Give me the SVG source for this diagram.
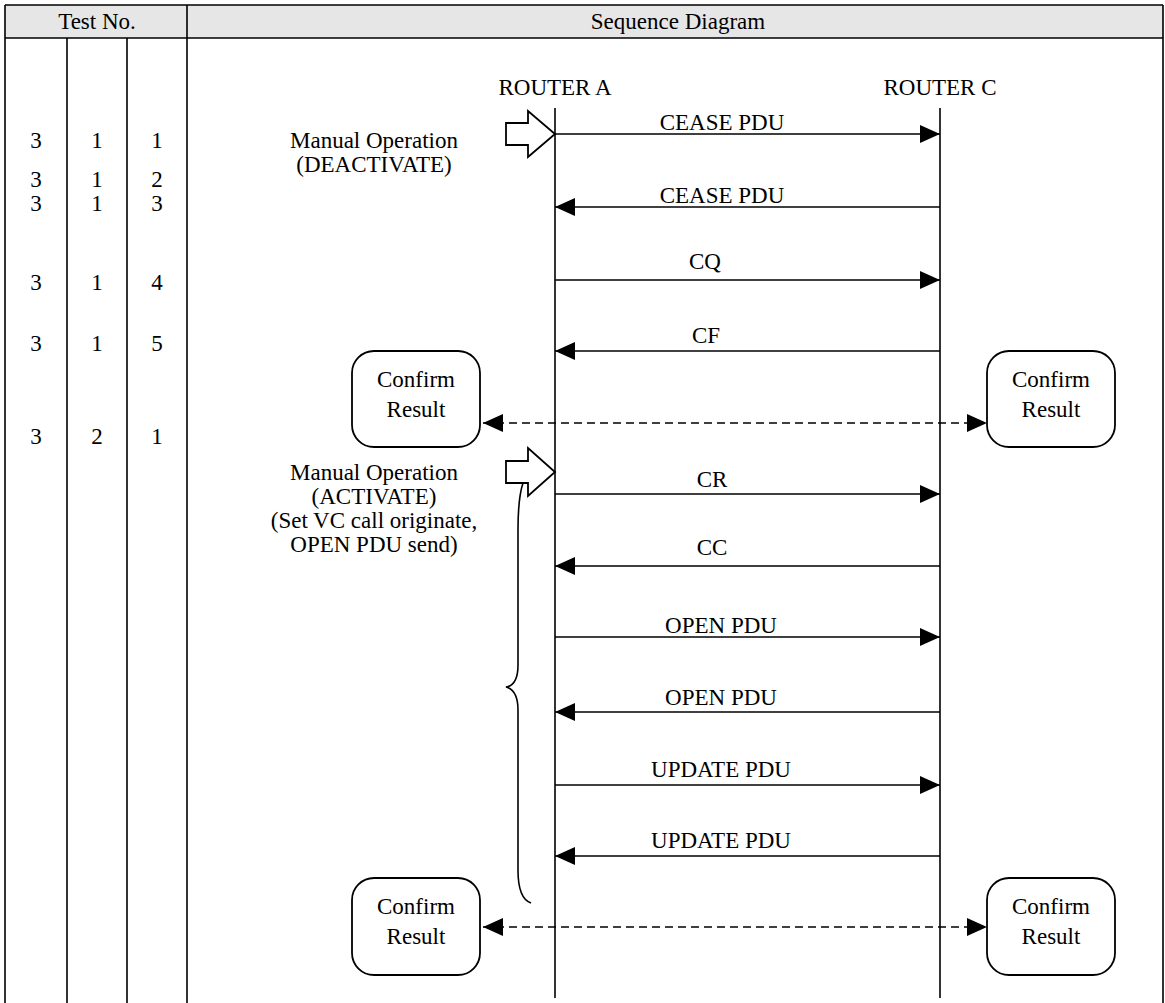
<svg xmlns="http://www.w3.org/2000/svg" width="1165" height="1003" viewBox="0 0 1165 1003">
<defs>
<style>
.t{font-family:"Liberation Serif","Times New Roman",serif;fill:#000}
.m{font-size:23px}
.s{font-size:23px}
.ln{stroke:#000;stroke-width:1.6;fill:none}
.msg{stroke:#000;stroke-width:1.6;fill:none}
.dash{stroke:#000;stroke-width:1.6;fill:none;stroke-dasharray:8 5}
.box{fill:#fff;stroke:#000;stroke-width:1.8}
.blk{fill:#fff;stroke:#000;stroke-width:1.8;stroke-linejoin:miter}
</style>
<marker id="ah" viewBox="0 0 20 18" refX="20" refY="9" markerWidth="20" markerHeight="18" markerUnits="userSpaceOnUse" orient="auto-start-reverse">
<path d="M0,0 L20,9 L0,18 Z" fill="#000"/>
</marker>
</defs>
<rect width="1165" height="1003" fill="#fff"/>
<g id="table">
<rect x="5" y="5" width="1158" height="33" fill="#e6e6e6"/>
<path class="ln" d="M5,5 H1163 M5,38 H1163 M5,5 V1003 M1163,5 V1003 M187,5 V1003 M67,38 V1003 M127,38 V1003"/>
<text class="t m" x="97" y="29" text-anchor="middle">Test No.</text>
<text class="t m" x="678" y="29" text-anchor="middle">Sequence Diagram</text>
<g class="t m" text-anchor="middle">
<text x="36" y="148">3</text><text x="97" y="148">1</text><text x="157" y="148">1</text>
<text x="36" y="187">3</text><text x="97" y="187">1</text><text x="157" y="187">2</text>
<text x="36" y="211">3</text><text x="97" y="211">1</text><text x="157" y="211">3</text>
<text x="36" y="290">3</text><text x="97" y="290">1</text><text x="157" y="290">4</text>
<text x="36" y="351">3</text><text x="97" y="351">1</text><text x="157" y="351">5</text>
<text x="36" y="444">3</text><text x="97" y="444">2</text><text x="157" y="444">1</text>
</g>
</g>
<g id="routerA">
<text class="t m" x="555" y="95" text-anchor="middle">ROUTER A</text>
<line class="ln" x1="555" y1="108" x2="555" y2="998"/>
</g>
<g id="routerC">
<text class="t m" x="940" y="95" text-anchor="middle">ROUTER C</text>
<line class="ln" x1="940" y1="108" x2="940" y2="998"/>
</g>
<g id="manual1">
<polygon class="blk" points="506,123 528,123 528,111 555,134 528,157 528,145 506,145"/>
<text class="t s" x="374" y="148" text-anchor="middle">Manual Operation</text>
<text class="t s" x="374" y="172" text-anchor="middle">(DEACTIVATE)</text>
</g>
<g id="manual2">
<polygon class="blk" points="506,461 528,461 528,448 555,472 528,496 528,483 506,483"/>
<text class="t s" x="374" y="480" text-anchor="middle">Manual Operation</text>
<text class="t s" x="374" y="504" text-anchor="middle">(ACTIVATE)</text>
<text class="t s" x="374" y="528" text-anchor="middle">(Set VC call originate,</text>
<text class="t s" x="374" y="552" text-anchor="middle">OPEN PDU send)</text>
<path class="ln" d="M523,483 C519,495 518,510 518,530 L518,665 C518,680 513,686 506,687 C513,689 518,695 518,710 L518,870 C518,890 522,900 531,903"/>
</g>
<g id="confirm1L">
<rect class="box" x="352" y="351" width="128" height="96" rx="22"/>
<text class="t s" x="416" y="387" text-anchor="middle">Confirm</text>
<text class="t s" x="416" y="417" text-anchor="middle">Result</text>
</g>
<g id="confirm1R">
<rect class="box" x="987" y="351" width="128" height="96" rx="22"/>
<text class="t s" x="1051" y="387" text-anchor="middle">Confirm</text>
<text class="t s" x="1051" y="417" text-anchor="middle">Result</text>
</g>
<g id="confirm2L">
<rect class="box" x="352" y="878" width="128" height="97" rx="22"/>
<text class="t s" x="416" y="914" text-anchor="middle">Confirm</text>
<text class="t s" x="416" y="944" text-anchor="middle">Result</text>
</g>
<g id="confirm2R">
<rect class="box" x="987" y="878" width="128" height="97" rx="22"/>
<text class="t s" x="1051" y="914" text-anchor="middle">Confirm</text>
<text class="t s" x="1051" y="944" text-anchor="middle">Result</text>
</g>
<g id="connectors">
<line class="msg" x1="555" y1="134" x2="940" y2="134" marker-end="url(#ah)"/>
<line class="msg" x1="940" y1="207" x2="555" y2="207" marker-end="url(#ah)"/>
<line class="msg" x1="555" y1="280" x2="940" y2="280" marker-end="url(#ah)"/>
<line class="msg" x1="940" y1="351" x2="555" y2="351" marker-end="url(#ah)"/>
<line class="dash" x1="483" y1="423" x2="987" y2="423" marker-start="url(#ah)" marker-end="url(#ah)"/>
<line class="msg" x1="555" y1="494" x2="940" y2="494" marker-end="url(#ah)"/>
<line class="msg" x1="940" y1="566" x2="555" y2="566" marker-end="url(#ah)"/>
<line class="msg" x1="555" y1="637" x2="940" y2="637" marker-end="url(#ah)"/>
<line class="msg" x1="940" y1="712" x2="555" y2="712" marker-end="url(#ah)"/>
<line class="msg" x1="555" y1="785" x2="940" y2="785" marker-end="url(#ah)"/>
<line class="msg" x1="940" y1="856" x2="555" y2="856" marker-end="url(#ah)"/>
<line class="dash" x1="483" y1="927" x2="987" y2="927" marker-start="url(#ah)" marker-end="url(#ah)"/>
<g class="t m" text-anchor="middle">
<text x="722" y="130">CEASE PDU</text>
<text x="722" y="203">CEASE PDU</text>
<text x="705" y="269">CQ</text>
<text x="706" y="343">CF</text>
<text x="712" y="487">CR</text>
<text x="712" y="555">CC</text>
<text x="721" y="633">OPEN PDU</text>
<text x="721" y="705">OPEN PDU</text>
<text x="721" y="777">UPDATE PDU</text>
<text x="721" y="848">UPDATE PDU</text>
</g>
</g>
</svg>
